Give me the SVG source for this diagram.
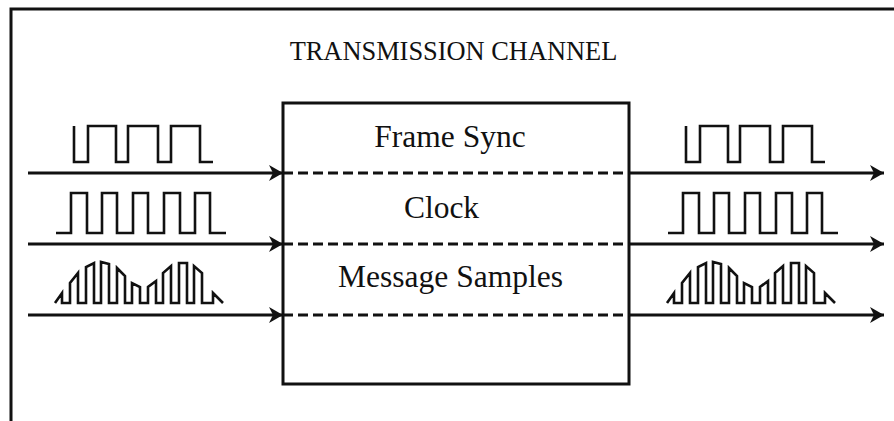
<svg xmlns="http://www.w3.org/2000/svg" width="894" height="421" viewBox="0 0 894 421">
<style>
.ln{fill:none;stroke:#111;stroke-width:3}
.wv{fill:none;stroke:#111;stroke-width:2.6;stroke-linejoin:miter}
.dash{fill:none;stroke:#111;stroke-width:3;stroke-dasharray:10 5}
.t{font-family:"Liberation Serif","Times New Roman",serif;fill:#111;text-anchor:middle}
</style>
<defs>
<marker id="ah" markerUnits="userSpaceOnUse" markerWidth="16" markerHeight="18" refX="14" refY="9" orient="auto">
<path d="M0,1 L14,9 L0,17 L4,9 z" fill="#111"/>
</marker>
<path id="fs" d="M74,126 V162 H88 V126 H116 V162 H128 V126 H158 V162 H171 V126 H200 V162 H213"/>
<path id="ck" d="M56,233 H71 V193 H87 V233 H102 V193 H117 V233 H133 V193 H148 V233 H164 V193 H180 V233 H195 V193 H210 V233 H226"/>
<path id="pam" d="M55,303 L62,293 V303 H70 V283 L78,273 V303 H86 V267 L94,263 V303 H101 V262 L109,264 V303 H117 V268 L125,276 V303 H132 V283 L140,287 V303 H148 V287 L156,281 V303 H163 V273 L171,266 V303 H179 V263 L187,263 V303 H194 V266 L202,273 V303 H213 V293 L223,303"/>
</defs>
<g id="frame"><path class="ln" d="M11,421 V9 H894"/></g>
<g id="title"><text class="t" x="453.5" y="60" font-size="26.4">TRANSMISSION CHANNEL</text></g>
<g id="channel">
<rect class="ln" x="283" y="103" width="346" height="281"/>
<text class="t" x="450" y="147" font-size="31.5">Frame Sync</text>
<text class="t" x="441.5" y="218" font-size="31.5">Clock</text>
<text class="t" x="450.5" y="287" font-size="31.5">Message Samples</text>
</g>
<g id="input-signals">
<use href="#fs" class="wv"/>
<use href="#ck" class="wv"/>
<use href="#pam" class="wv"/>
</g>
<g id="output-signals" transform="translate(612,0)">
<use href="#fs" class="wv"/>
<use href="#ck" class="wv"/>
<use href="#pam" class="wv"/>
</g>
<g id="connectors">
<path class="ln" d="M28,173 H283" marker-end="url(#ah)"/>
<path class="ln" d="M28,244 H283" marker-end="url(#ah)"/>
<path class="ln" d="M28,315 H283" marker-end="url(#ah)"/>
<path class="dash" d="M283,173 H629"/>
<path class="dash" d="M283,244 H629"/>
<path class="dash" d="M283,315 H629"/>
<path class="ln" d="M629,173 H884" marker-end="url(#ah)"/>
<path class="ln" d="M629,244 H884" marker-end="url(#ah)"/>
<path class="ln" d="M629,315 H884" marker-end="url(#ah)"/>
</g>
</svg>
